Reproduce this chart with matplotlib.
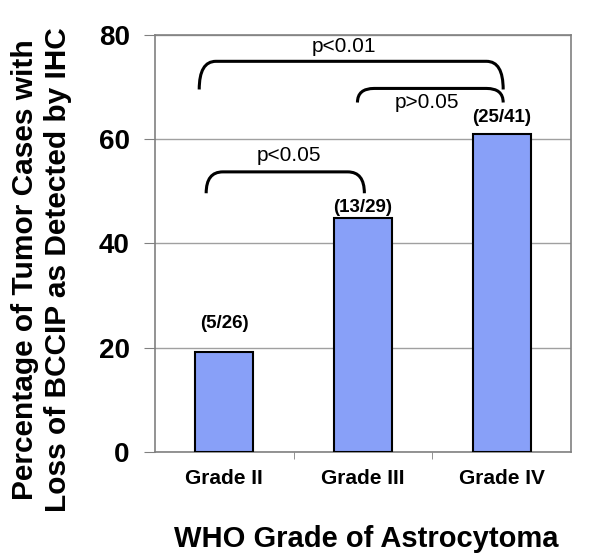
import matplotlib.pyplot as plt
from matplotlib.path import Path
from matplotlib.patches import PathPatch

plt.rcParams['font.family'] = ['Liberation Sans', 'DejaVu Sans']

# data
grades = ['Grade II', 'Grade III', 'Grade IV']
cases_lost = [5, 13, 25]
cases_total = [26, 29, 41]
percent = [100 * a / b for a, b in zip(cases_lost, cases_total)]

# significance brackets: (left bar, right bar, p label)
comparisons = [(0, 2, 'p<0.01'), (1, 2, 'p>0.05'), (0, 1, 'p<0.05')]

# gap between bar top and its count label (data units), placed by hand in the original
label_gap = [3.8, 0.4, 1.5]

fig = plt.figure(figsize=(6, 5.6), dpi=100)
ax = fig.add_axes([0.258, 0.193, 0.694, 0.745])

x = list(range(len(grades)))
ax.bar(x, percent, width=0.42, color='#88a0f8', edgecolor='black', linewidth=1.5, zorder=3)

for i, p in enumerate(percent):
    ax.text(i, p + label_gap[i], f'({cases_lost[i]}/{cases_total[i]})', ha='center', va='bottom',
            fontsize=13.5, fontweight='bold')


def bracket(x0, x1, ytop, yend, label, lx, ly):
    dx = 0.12
    verts = [(x0, yend), (x0, ytop), (x0 + dx, ytop),
             (x1 - dx, ytop), (x1, ytop), (x1, yend)]
    codes = [Path.MOVETO, Path.CURVE3, Path.CURVE3,
             Path.LINETO, Path.CURVE3, Path.CURVE3]
    ax.add_patch(PathPatch(Path(verts, codes), fill=False, lw=2.2, color='black', zorder=4))
    ax.text(lx, ly, label, ha='center', va='center', fontsize=15)


bracket(comparisons[0][0] - 0.18, comparisons[0][1] + 0.01, 74.9, 69.5, comparisons[0][2], 0.86, 77.7)
bracket(comparisons[1][0] - 0.04, comparisons[1][1] + 0.01, 69.7, 67.0, comparisons[1][2], 1.46, 67.0)
bracket(comparisons[2][0] - 0.13, comparisons[2][1] + 0.01, 53.7, 49.6, comparisons[2][2], 0.47, 56.8)

ax.set_xlim(-0.5, 2.5)
ax.set_ylim(0, 80)
ax.set_yticks([0, 20, 40, 60, 80])
ax.set_yticklabels(['0', '20', '40', '60', '80'], fontsize=20, fontweight='bold')
ax.set_xticks(x)
ax.set_xticklabels(grades, fontsize=15, fontweight='bold')
ax.set_xticks([0.5, 1.5], minor=True)
ax.tick_params(axis='x', which='major', length=0, pad=12)
ax.tick_params(axis='x', which='minor', length=5, color='#808080', direction='out')
ax.tick_params(axis='y', length=8, color='#808080', direction='out', pad=10)

ax.grid(axis='y', color='#a0a0a0', linewidth=1, zorder=0)
for s in ax.spines.values():
    s.set_color('#808080')
    s.set_linewidth(1.2)

fig.text(0.069, 0.518, 'Percentage of Tumor Cases with\nLoss of BCCIP as Detected by IHC',
         rotation=90, ha='center', va='center', multialignment='center',
         fontsize=21.5, fontweight='bold', linespacing=1.2)
fig.text(0.61, 0.0375, 'WHO Grade of Astrocytoma', ha='center', va='center',
         fontsize=21, fontweight='bold')

plt.savefig('out.png', dpi=100)
